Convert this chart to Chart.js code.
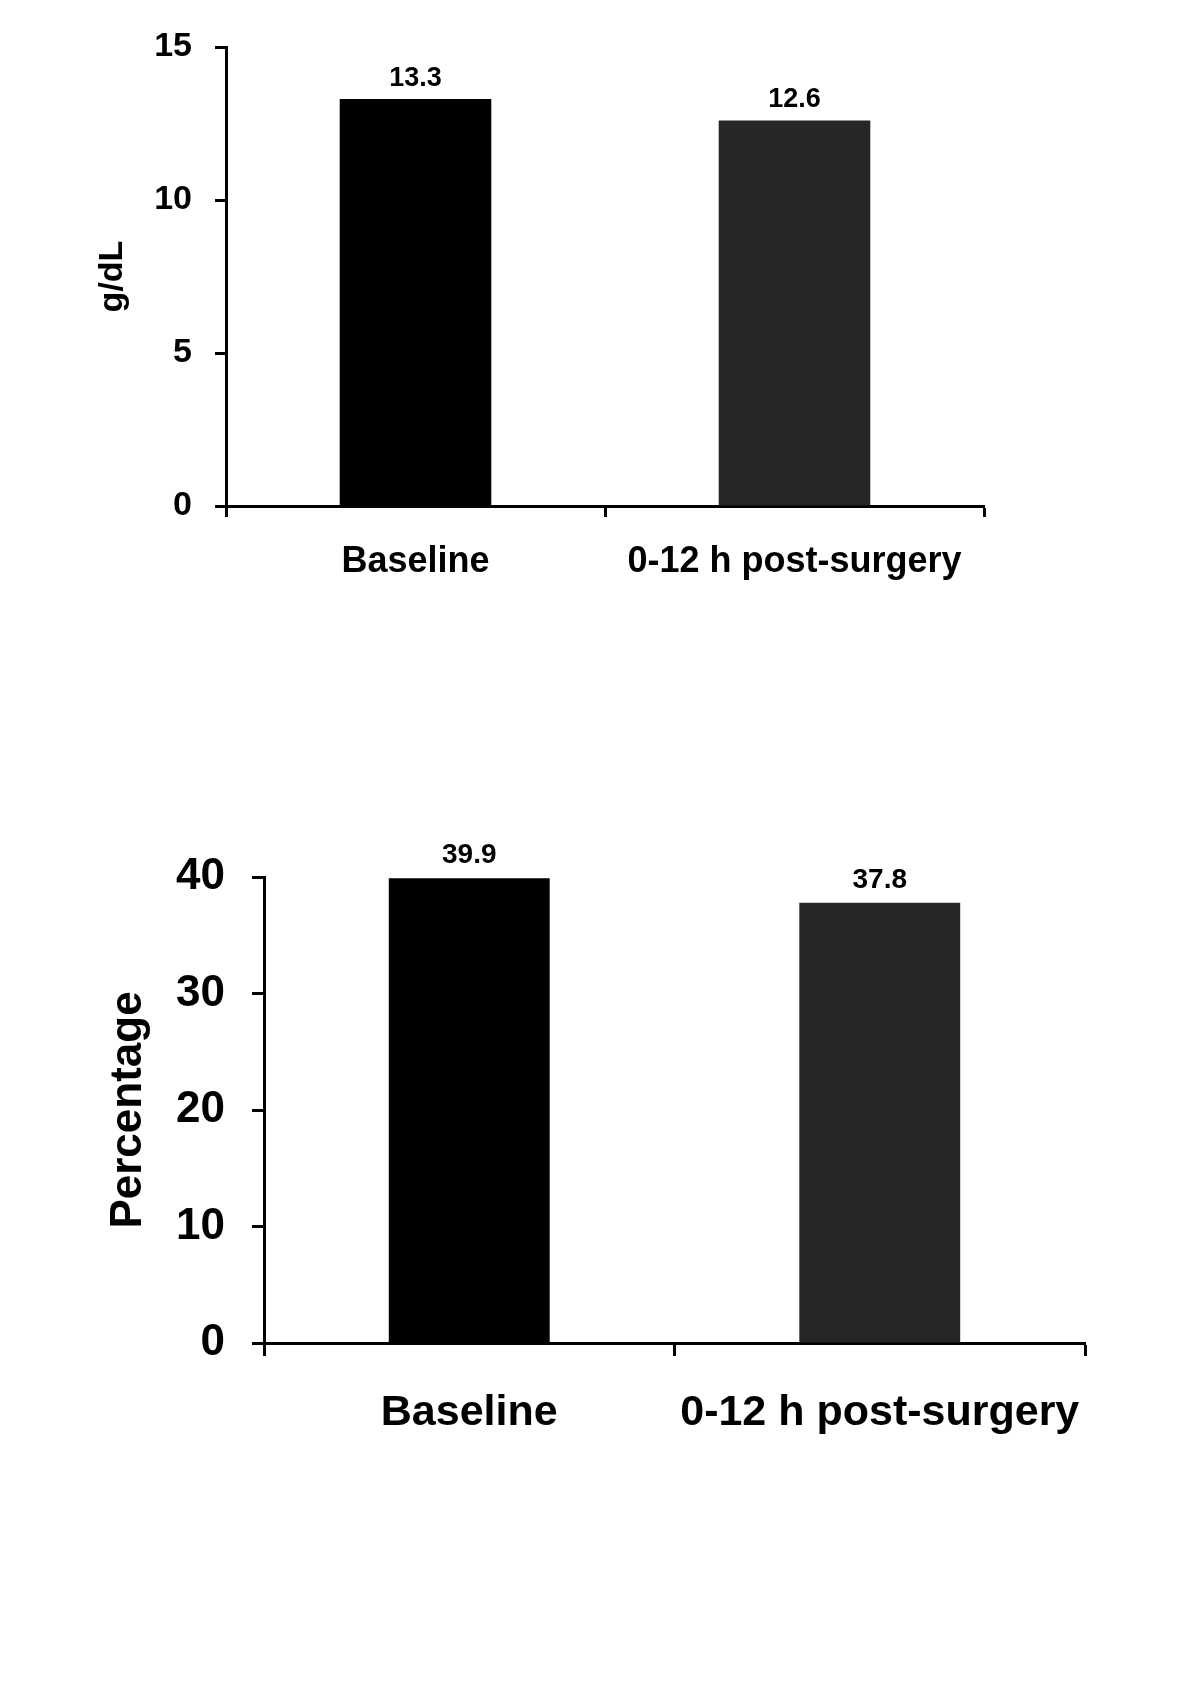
<!DOCTYPE html>
<html><head><meta charset="utf-8">
<script src="https://cdn.jsdelivr.net/npm/chart.js@4/dist/chart.umd.min.js"></script>
<style>
html,body{margin:0;padding:0;background:#fff;width:1200px;height:1693px;overflow:hidden}
.wrap{position:absolute;left:0;width:1200px}
#w1{top:0;height:650px}
#w2{top:700px;height:750px}
</style></head><body>
<div class="wrap" id="w1"><canvas id="c1"></canvas></div>
<div class="wrap" id="w2"><canvas id="c2"></canvas></div>
<script>
const categories = ['Baseline', '0-12 h post-surgery'];
const hemoglobinValues = [13.3, 12.6];
const hematocritValues = [39.9, 37.8];
const hemoglobinAxis = { min: 0, max: 15, step: 5, title: 'g/dL' };
const hematocritAxis = { min: 0, max: 40, step: 10, title: 'Percentage' };
const barColors = ['#000000', '#262626'];

const FAMILY = "'Liberation Sans', Arial, Helvetica, sans-serif";
Chart.defaults.font.family = FAMILY;
Chart.defaults.font.weight = 'bold';
Chart.defaults.color = '#000';

const valueLabels = {
  id: 'valueLabels',
  afterDatasetsDraw(chart, args, opts) {
    const ctx = chart.ctx;
    const meta = chart.getDatasetMeta(0);
    const data = chart.data.datasets[0].data;
    ctx.save();
    ctx.font = 'bold ' + opts.size + 'px ' + FAMILY;
    ctx.fillStyle = '#000';
    ctx.textAlign = 'center';
    ctx.textBaseline = 'alphabetic';
    meta.data.forEach((bar, i) => {
      ctx.fillText(data[i].toFixed(1), bar.x, bar.y - opts.gap);
    });
    ctx.restore();
  }
};

function makeChart(id, values, axis, s) {
  return new Chart(document.getElementById(id), {
    type: 'bar',
    data: {
      labels: categories,
      datasets: [{
        data: values,
        backgroundColor: barColors,
        borderWidth: 0,
        barPercentage: s.barPct,
        categoryPercentage: 1
      }]
    },
    plugins: [valueLabels],
    options: {
      responsive: true,
      maintainAspectRatio: false,
      animation: false,
      events: [],
      layout: { padding: s.padding },
      plugins: {
        legend: { display: false },
        tooltip: { enabled: false },
        valueLabels: { size: s.valueSize, gap: s.valueGap }
      },
      scales: {
        x: {
          offset: true,
          grid: { display: true, drawOnChartArea: false, drawTicks: true, tickLength: s.xTick, tickWidth: 3, tickColor: '#000', offset: true },
          border: { display: true, color: '#000', width: 3 },
          ticks: { font: { size: s.xFont, weight: 'bold' }, color: '#000', padding: s.xPad, maxRotation: 0, autoSkip: false },
          afterFit(scale) { scale.height = s.xHeight; }
        },
        y: {
          min: axis.min, max: axis.max,
          grid: { display: true, drawOnChartArea: false, drawTicks: true, tickLength: s.yTick, tickWidth: 3, tickColor: '#000' },
          border: { display: true, color: '#000', width: 3 },
          ticks: { stepSize: axis.step, font: { size: s.yFont, weight: 'bold' }, color: '#000', padding: s.yPad },
          title: { display: true, text: axis.title, color: '#000', font: { size: s.titleFont, weight: 'bold' }, padding: { top: s.titlePad, bottom: 0 } },
          afterFit(scale) { scale.width = s.yWidth; }
        }
      }
    }
  });
}

makeChart('c1', hemoglobinValues, hemoglobinAxis, {
  barPct: 0.4,
  padding: { top: 47, right: 216, bottom: 44, left: 0 },
  xHeight: 100, yWidth: 226,
  xFont: 36, xPad: 23, xTick: 11,
  yFont: 34, yPad: 23, yTick: 11,
  titleFont: 34, titlePad: 92,
  valueSize: 27, valueGap: 13
});

makeChart('c2', hematocritValues, hematocritAxis, {
  barPct: 0.392,
  padding: { top: 177, right: 115, bottom: 7, left: 0 },
  xHeight: 100, yWidth: 264,
  xFont: 43, xPad: 31, xTick: 13,
  yFont: 44, yPad: 27, yTick: 12,
  titleFont: 44, titlePad: 102,
  valueSize: 28, valueGap: 15
});
</script>
</body></html>
